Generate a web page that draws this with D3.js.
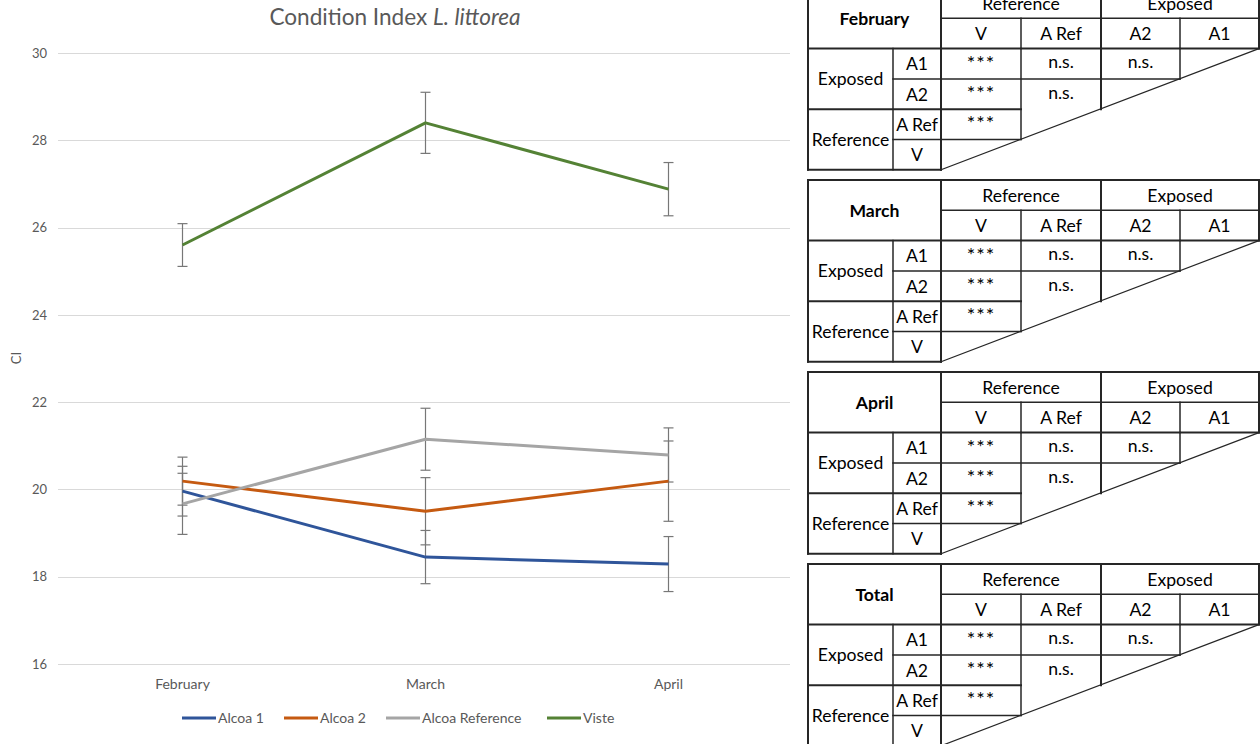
<!DOCTYPE html>
<html>
<head>
<meta charset="utf-8">
<script src="https://cdn.jsdelivr.net/npm/d3@7"></script>
<style>
  html, body { margin: 0; padding: 0; background: #fff; }
  svg { display: block; font-family: Lato, "Open Sans", sans-serif; }
</style>
</head>
<body>
<svg id="chart" width="1260" height="744"></svg>
<script>
// ---- Chart data ----
const months = ["February", "March", "April"];
const seriesNames = ["Alcoa 1", "Alcoa 2", "Alcoa Reference", "Viste"];
const seriesColors = ["#2f559a", "#c55a11", "#a5a5a5", "#548235"];
const alcoa1 = [19.96, 18.45, 18.29];
const alcoa2 = [20.19, 19.50, 20.19];
const alcoaRef = [19.67, 21.15, 20.79];
const viste = [25.60, 28.40, 26.88];
const alcoa1Err = [0.57, 0.61, 0.63];
const alcoa2Err = [0.55, 0.77, 0.92];
const alcoaRefErr = [0.70, 0.71, 0.62];
const visteErr = [0.49, 0.70, 0.61];
const yTicks = [16, 18, 20, 22, 24, 26, 28, 30];

// ---- Significance tables ----
const tableTitles = ["February", "March", "April", "Total"];
const groupHeaders = ["Reference", "Exposed"];
const colHeaders = ["V", "A Ref", "A2", "A1"];
const rowGroups = ["Exposed", "Reference"];
const rowHeaders = ["A1", "A2", "A Ref", "V"];
const sigA1 = ["***", "n.s.", "n.s."];
const sigA2 = ["***", "n.s."];
const sigARef = ["***"];
const sigV = [];

const svg = d3.select("#chart");
const textColor = "#595959";

const values = [alcoa1, alcoa2, alcoaRef, viste];
const errors = [alcoa1Err, alcoa2Err, alcoaRefErr, visteErr];
const series = seriesNames.map((name, i) => ({
  name, color: seriesColors[i],
  points: months.map((m, j) => ({ month: m, v: values[i][j], e: errors[i][j] }))
}));

const x = d3.scaleBand().domain(months).range([61, 790]).padding(0);
const xc = m => x(m) + x.bandwidth() / 2;
const y = d3.scaleLinear().domain([16, 30]).range([664, 53]);

// Title
const title = svg.append("text")
  .attr("x", 395).attr("y", 25)
  .attr("text-anchor", "middle")
  .attr("font-size", 22.6).attr("fill", textColor);
title.append("tspan").text("Condition Index ");
title.append("tspan").attr("font-style", "italic").text("L. littorea");

// Gridlines
svg.append("g").selectAll("line").data(yTicks).join("line")
  .attr("x1", 58).attr("x2", 790)
  .attr("y1", d => Math.round(y(d)) + 0.5).attr("y2", d => Math.round(y(d)) + 0.5)
  .attr("stroke", "#d9d9d9").attr("stroke-width", 1);

// Y axis labels
const yAxis = d3.axisLeft(y).tickValues(yTicks).tickSize(0).tickPadding(0);
const gy = svg.append("g").attr("transform", "translate(47,0)").call(yAxis);
gy.select(".domain").remove();
gy.selectAll("text").attr("font-size", 13).attr("fill", textColor)
  .attr("font-family", "Lato, sans-serif");

// Y axis title
svg.append("text")
  .attr("transform", "translate(21,358) rotate(-90)")
  .attr("text-anchor", "middle")
  .attr("font-size", 13).attr("fill", textColor).text("CI");

// X axis labels
const xAxis = d3.axisBottom(x).tickSize(0).tickPadding(0);
const gx = svg.append("g").attr("transform", "translate(0,679)").call(xAxis);
gx.select(".domain").remove();
gx.selectAll("text").attr("font-size", 14).attr("fill", textColor)
  .attr("font-family", "Lato, sans-serif");

// Error bars
const errG = svg.append("g").attr("stroke", "#777").attr("stroke-width", 1.2);
series.forEach(s => {
  s.points.forEach(p => {
    const cx = xc(p.month);
    errG.append("line").attr("x1", cx).attr("x2", cx)
      .attr("y1", y(p.v + p.e)).attr("y2", y(p.v - p.e));
    [p.v + p.e, p.v - p.e].forEach(val => {
      errG.append("line").attr("x1", cx - 5).attr("x2", cx + 5)
        .attr("y1", y(val)).attr("y2", y(val));
    });
  });
});

// Series lines
const line = d3.line().x(p => xc(p.month)).y(p => y(p.v));
svg.append("g").selectAll("path").data(series).join("path")
  .attr("d", s => line(s.points))
  .attr("fill", "none")
  .attr("stroke", s => s.color)
  .attr("stroke-width", 3)
  .attr("stroke-linejoin", "round");

// Legend
const legendX = [182, 284, 386, 547];
const leg = svg.append("g").selectAll("g").data(series).join("g")
  .attr("transform", (s, i) => `translate(${legendX[i]},718)`);
leg.append("line").attr("x1", 0).attr("x2", 34).attr("y1", 0).attr("y2", 0)
  .attr("stroke", s => s.color).attr("stroke-width", 3);
leg.append("text").attr("x", 36).attr("y", 5)
  .attr("font-size", 14).attr("fill", textColor).text(s => s.name);

// ---- Tables ----
const colX = [808, 893, 941, 1021, 1101, 1180, 1259];
const rowH = 30.3;
const tableTop = [-12, 180, 372, 564];
const sigRows = [sigA1, sigA2, sigARef, sigV];
const ink = "#262626";

tableTitles.forEach((t, ti) => {
  const top = tableTop[ti];
  const ry = k => top + k * rowH;
  const g = svg.append("g").attr("font-size", 17.6).attr("fill", "#000");
  const seg = (x1, y1, x2, y2, w) => g.append("line")
    .attr("x1", x1).attr("y1", y1).attr("x2", x2).attr("y2", y2)
    .attr("stroke", ink).attr("stroke-width", w || 1.5).attr("stroke-linecap", "square");
  const txt = (s, cx, cy, bold) => g.append("text")
    .attr("x", cx).attr("y", cy).attr("text-anchor", "middle")
    .attr("dominant-baseline", "central")
    .attr("font-weight", bold ? "bold" : null).text(s);

  // outer frame of header and left blocks
  seg(colX[0], ry(0), colX[6], ry(0), 2);
  seg(colX[0], ry(0), colX[0], ry(6), 2);
  seg(colX[0], ry(6), colX[2], ry(6), 2);
  seg(colX[6], ry(0), colX[6], ry(2), 2);
  seg(colX[2], ry(0), colX[2], ry(6), 2);
  seg(colX[2], ry(1), colX[6], ry(1));
  seg(colX[0], ry(2), colX[6], ry(2), 2);
  seg(colX[4], ry(0), colX[4], ry(2), 2);
  seg(colX[3], ry(1), colX[3], ry(2));
  seg(colX[5], ry(1), colX[5], ry(2));
  seg(colX[0], ry(4), colX[3], ry(4), 2);
  seg(colX[1], ry(2), colX[1], ry(6));
  // staircase of the lower-left triangle
  seg(colX[1], ry(3), colX[5], ry(3));
  seg(colX[1], ry(5), colX[2], ry(5));
  seg(colX[5], ry(2), colX[5], ry(3));
  seg(colX[4], ry(2), colX[4], ry(4), 2);
  seg(colX[3], ry(2), colX[3], ry(5));
  seg(colX[2], ry(5), colX[3], ry(5));
  // diagonal closing the triangle
  seg(colX[2], ry(6), colX[6], ry(2), 1.2);

  // header text
  txt(t, (colX[0] + colX[2]) / 2, ry(1), true);
  txt(groupHeaders[0], (colX[2] + colX[4]) / 2, ry(0.5));
  txt(groupHeaders[1], (colX[4] + colX[6]) / 2, ry(0.5));
  colHeaders.forEach((c, i) => txt(c, (colX[i + 2] + colX[i + 3]) / 2, ry(1.5)));
  txt(rowGroups[0], (colX[0] + colX[1]) / 2, ry(3));
  txt(rowGroups[1], (colX[0] + colX[1]) / 2, ry(5));
  rowHeaders.forEach((r, i) => txt(r, (colX[1] + colX[2]) / 2, ry(2.5 + i)));
  sigRows.forEach((row, i) => row.forEach((s, j) => {
    const el = txt(s, (colX[j + 2] + colX[j + 3]) / 2, ry(2.5 + i) - 2);
    if (s === "***") el.attr("font-size", 20).attr("letter-spacing", 1);
  }));
});
</script>
</body>
</html>
